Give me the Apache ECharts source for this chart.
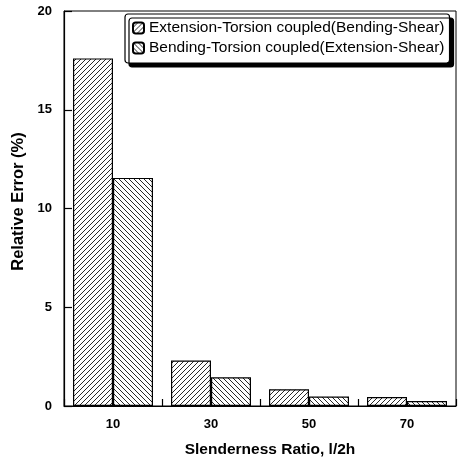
<!DOCTYPE html>
<html><head><meta charset="utf-8">
<script src="https://cdn.jsdelivr.net/npm/echarts@6/dist/echarts.min.js"></script>
<style>html,body{margin:0;padding:0;background:#fff}#c{width:458px;height:459px}</style>
</head><body><div id="c"></div>
<script>
var categories = ['10', '30', '50', '70'];
var seriesNames = ['Extension-Torsion coupled(Bending-Shear)', 'Bending-Torsion coupled(Extension-Shear)'];
var extTorsion = [17.6, 2.3, 0.85, 0.45];
var bendTorsion = [11.55, 1.45, 0.48, 0.25];
var yTicks = [0, 5, 10, 15, 20];

function hatch(dir) {
  var n = 5, c = document.createElement('canvas');
  c.width = n; c.height = n;
  var g = c.getContext('2d');
  g.fillStyle = '#fff'; g.fillRect(0, 0, n, n);
  g.strokeStyle = '#111'; g.lineWidth = 0.9;
  g.beginPath();
  if (dir > 0) {
    g.moveTo(-1, n + 1); g.lineTo(n + 1, -1);
    g.moveTo(-1, 1); g.lineTo(1, -1);
    g.moveTo(n - 1, n + 1); g.lineTo(n + 1, n - 1);
  } else {
    g.moveTo(-1, -1); g.lineTo(n + 1, n + 1);
    g.moveTo(-1, n - 1); g.lineTo(1, n + 1);
    g.moveTo(n - 1, -1); g.lineTo(n + 1, 1);
  }
  g.stroke();
  return { image: c, repeat: 'repeat' };
}

var chart = echarts.init(document.getElementById('c'));
var font = 'Liberation Sans, Arial, sans-serif';
chart.setOption({
  animation: false,
  grid: { left: 64, right: 2, top: 11, bottom: 53, show: true, borderColor: '#000', borderWidth: 1,
          containLabel: false, outerBoundsMode: 'none' },
  legend: {
    left: 125, top: 14, orient: 'vertical',
    data: seriesNames,
    itemWidth: 11, itemHeight: 11, itemGap: 4,
    padding: [6, 5, 7, 7],
    backgroundColor: '#fff', borderColor: '#000', borderWidth: 1.2, borderRadius: 3,
    shadowColor: '#000', shadowBlur: 0, shadowOffsetX: 4, shadowOffsetY: 4,
    textStyle: { fontFamily: font, fontSize: 15.5, color: '#000', padding: [0, 0, 0, 0] }
  },
  xAxis: {
    type: 'category', data: categories,
    name: 'Slenderness Ratio, l/2h', nameLocation: 'middle', nameGap: 36,
    nameTextStyle: { fontFamily: font, fontSize: 15.5, fontWeight: 'bold', color: '#000', padding: [0, 0, 0, 20] },
    axisLine: { lineStyle: { color: '#000', width: 1.2 } },
    axisTick: { show: true, inside: true, length: 7, lineStyle: { color: '#000', width: 1.2 } },
    axisLabel: { fontFamily: font, fontSize: 13, fontWeight: 'bold', color: '#000', margin: 12 }
  },
  yAxis: {
    type: 'value', min: yTicks[0], max: yTicks[yTicks.length - 1], interval: 5,
    name: 'Relative Error (%)', nameLocation: 'middle', nameGap: 36,
    nameTextStyle: { fontFamily: font, fontSize: 16.5, fontWeight: 'bold', color: '#000', padding: [0, 0, 0, 14] },
    axisLine: { show: true, lineStyle: { color: '#000', width: 1.2 } },
    axisTick: { show: true, inside: true, length: 8, lineStyle: { color: '#000', width: 1.2 } },
    splitLine: { show: false },
    axisLabel: { fontFamily: font, fontSize: 13, fontWeight: 'bold', color: '#000', margin: 12 }
  },
  series: [
    { name: seriesNames[0], type: 'bar', data: extTorsion, barWidth: 40, barGap: '0%',
      itemStyle: { color: hatch(1), borderColor: '#000', borderWidth: 1.2 } },
    { name: seriesNames[1], type: 'bar', data: bendTorsion, barWidth: 40, barGap: '0%',
      itemStyle: { color: hatch(-1), borderColor: '#000', borderWidth: 1.2 } }
  ]
});
</script></body></html>
